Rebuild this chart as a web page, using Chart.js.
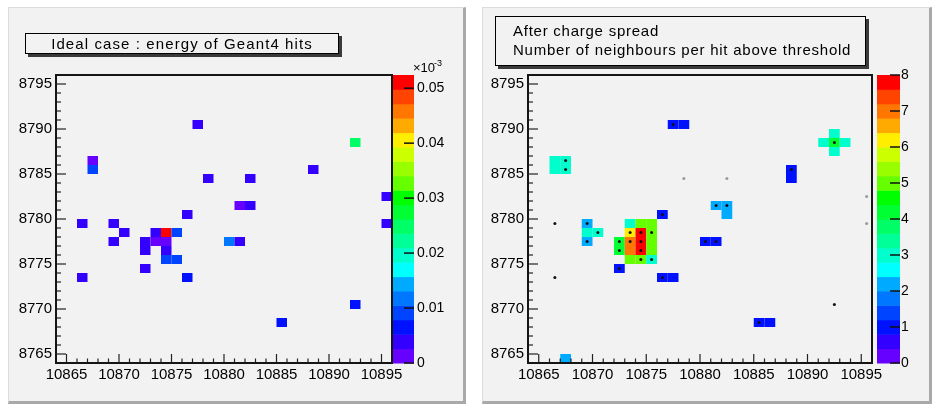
<!DOCTYPE html>
<html>
<head>
<meta charset="utf-8">
<script src="https://cdn.jsdelivr.net/npm/chart.js@4.4.0/dist/chart.umd.min.js"></script>
<style>
  body { margin: 0; background: #ffffff; font-family: "Liberation Sans", Arial, sans-serif; }
  #page { position: relative; width: 934px; height: 407px; overflow: hidden; }
  .pad {
    position: absolute; box-sizing: border-box; background: #f2f2f2;
    border-left: 1px solid #dcdcdc; border-top: 1px solid #dcdcdc;
    border-right: 3px solid #a9a9a9; border-bottom: 3px solid #a9a9a9;
  }
  .pad canvas { position: absolute; left: 0; top: 0; }
  .pave {
    position: absolute; box-sizing: border-box; background: #f2f2f2;
    border: 1px solid #000; box-shadow: 3px 3px 0 #3a3a3a;
    font-size: 15px; line-height: 19px; color: #000; z-index: 2; white-space: nowrap;
  }
</style>
</head>
<body>
<div id="page">
  <div class="pad" style="left:8px; top:7px; width:458px; height:397px;">
    <canvas id="truth" width="454" height="393"></canvas>
    <div class="pave" style="left:16px; top:25px; width:314px; height:21px; text-align:center; letter-spacing:1.1px;">Ideal case : energy of Geant4 hits</div>
  </div>
  <div class="pad" style="left:482px; top:7px; width:450px; height:397px;">
    <canvas id="spread" width="446" height="393"></canvas>
    <div class="pave" style="left:12px; top:8px; width:371px; height:50px; padding:4px 0 0 17px; letter-spacing:0.75px;">After charge spread<br>Number of neighbours per hit above threshold</div>
  </div>
</div>

<script>
// bin ranges (1 unit bins)
const xRange = [10864, 10896];
const yRange = [8764, 8796];

// Geant4 hits: bin centres and deposited energy (units of 1e-3)
const hitX = [10877.5, 10892.5, 10867.5, 10867.5, 10888.5, 10878.5, 10882.5, 10895.5, 10881.5, 10882.5,
              10876.5, 10866.5, 10869.5, 10895.5, 10870.5, 10873.5, 10874.5, 10875.5, 10869.5, 10872.5,
              10873.5, 10874.5, 10880.5, 10881.5, 10872.5, 10874.5, 10874.5, 10875.5, 10872.5, 10866.5,
              10876.5, 10892.5, 10885.5];
const hitY = [8790.5, 8788.5, 8786.5, 8785.5, 8785.5, 8784.5, 8784.5, 8782.5, 8781.5, 8781.5,
              8780.5, 8779.5, 8779.5, 8779.5, 8778.5, 8778.5, 8778.5, 8778.5, 8777.5, 8777.5,
              8777.5, 8777.5, 8777.5, 8777.5, 8776.5, 8776.5, 8775.5, 8775.5, 8774.5, 8773.5,
              8773.5, 8770.5, 8768.5];
const hitE = [0.004, 0.024, 0.0015, 0.009, 0.004, 0.004, 0.004, 0.004, 0.0015, 0.004,
              0.004, 0.004, 0.004, 0.004, 0.004, 0.004, 0.0524, 0.009, 0.004, 0.004,
              0.0015, 0.0015, 0.0115, 0.004, 0.004, 0.004, 0.010, 0.010, 0.004, 0.004,
              0.0065, 0.0065, 0.0065];
// hits drawn as faint dots on the right pad
const faintHits = [5, 6, 7, 13];

// after charge spread: number of neighbours per hit above threshold
const cellX = [10877.5, 10878.5, 10892.5, 10891.5, 10892.5, 10893.5, 10892.5, 10866.5, 10867.5, 10866.5,
               10867.5, 10888.5, 10888.5, 10881.5, 10882.5, 10882.5, 10876.5, 10869.5, 10869.5, 10870.5,
               10869.5, 10873.5, 10874.5, 10875.5, 10873.5, 10874.5, 10875.5, 10872.5, 10873.5, 10874.5,
               10875.5, 10872.5, 10873.5, 10874.5, 10875.5, 10873.5, 10874.5, 10875.5, 10872.5, 10876.5,
               10877.5, 10880.5, 10881.5, 10885.5, 10886.5, 10867.5];
const cellY = [8790.5, 8790.5, 8789.5, 8788.5, 8788.5, 8788.5, 8787.5, 8786.5, 8786.5, 8785.5,
               8785.5, 8785.5, 8784.5, 8781.5, 8781.5, 8780.5, 8780.5, 8779.5, 8778.5, 8778.5,
               8777.5, 8779.5, 8779.5, 8779.5, 8778.5, 8778.5, 8778.5, 8777.5, 8777.5, 8777.5,
               8777.5, 8776.5, 8776.5, 8776.5, 8776.5, 8775.5, 8775.5, 8775.5, 8774.5, 8773.5,
               8773.5, 8777.5, 8777.5, 8768.5, 8768.5, 8764.5];
const cellN = [1, 1, 3, 3, 4, 3, 3, 3, 3, 3,
               3, 1, 1, 2, 2, 2, 1, 2, 3, 3,
               2, 3, 5, 5, 6, 8, 5, 4, 7, 8,
               5, 4, 7, 8, 5, 5, 5, 3, 1, 1,
               1, 1, 1, 1, 1, 2];

const zTruth = [0, 0.0524];
const zSpread = [0, 8];

// ROOT-like 20 level palette, bottom to top
const palette = ['#6600ff', '#3300ff', '#0011ff', '#0044ff', '#0077ff', '#00aaff', '#00ffff', '#00ffcc',
                 '#00ff99', '#00ff66', '#00ff33', '#00ff00', '#66ff00', '#99ff00', '#ccff00', '#ffee00',
                 '#ffaa00', '#ff7700', '#ff4400', '#ff0000'];

Chart.defaults.font.family = '"Liberation Sans", Arial, sans-serif';
Chart.defaults.color = '#000';

function levelColor(v, zmin, zmax) {
    let i = Math.floor((v - zmin) / ((zmax - zmin) / palette.length) + 1e-9);
    return palette[Math.max(0, Math.min(palette.length - 1, i))];
}

const rootPlugin = {
    id: 'rootStyle',
    beforeDatasetsDraw(chart) {
        const { ctx, scales: { x, y, z } } = chart;
        const cells = chart.data.datasets[0].data;
        ctx.save();
        cells.forEach(c => {
            const x0 = x.getPixelForValue(c.x - 0.5), x1 = x.getPixelForValue(c.x + 0.5);
            const y0 = y.getPixelForValue(c.y + 0.5), y1 = y.getPixelForValue(c.y - 0.5);
            ctx.fillStyle = levelColor(c.v, z.min, z.max);
            ctx.fillRect(x0, y0, x1 - x0, y1 - y0);
        });
        ctx.restore();
    },
    afterDraw(chart, args, opts) {
        const { ctx, chartArea: a, scales: { x, y, z } } = chart;
        ctx.save();

        // colour bar
        const bx = a.right + opts.barGap;
        const step = (z.max - z.min) / palette.length;
        palette.forEach((col, i) => {
            const y0 = z.getPixelForValue(z.min + (i + 1) * step);
            const y1 = z.getPixelForValue(z.min + i * step);
            ctx.fillStyle = col;
            ctx.fillRect(bx, y0, opts.barWidth, y1 - y0 + 0.5);
        });
        ctx.strokeStyle = '#111';
        ctx.lineWidth = 1.5;
        z.ticks.forEach(t => {
            const py = z.getPixelForValue(t.value);
            ctx.beginPath();
            ctx.moveTo(bx + opts.barWidth - 10, py);
            ctx.lineTo(bx + opts.barWidth, py);
            ctx.stroke();
        });

        // inward axis ticks, major every 5, minor every 1
        ctx.lineWidth = 1.2;
        ctx.strokeStyle = '#222';
        for (let v = yRange[0]; v <= yRange[1]; v++) {
            const py = y.getPixelForValue(v);
            const len = v % 5 === 0 ? 10 : 5;
            ctx.beginPath();
            ctx.moveTo(a.left, py);
            ctx.lineTo(a.left + len, py);
            ctx.stroke();
        }
        for (let v = xRange[0]; v <= xRange[1]; v++) {
            const px = x.getPixelForValue(v);
            const len = v % 5 === 0 ? 9 : 4.5;
            ctx.beginPath();
            ctx.moveTo(px, a.bottom);
            ctx.lineTo(px, a.bottom - len);
            ctx.stroke();
        }

        // frame
        ctx.lineWidth = 2;
        ctx.strokeStyle = '#151515';
        ctx.strokeRect(a.left, a.top, a.right - a.left, a.bottom - a.top);

        // exponent label
        if (opts.exponent) {
            ctx.fillStyle = '#000';
            ctx.textBaseline = 'alphabetic';
            ctx.font = '13px "Liberation Sans", Arial, sans-serif';
            ctx.fillText('\u00d710', bx + 20, a.top - 3);
            ctx.font = '9px "Liberation Sans", Arial, sans-serif';
            ctx.fillText('-3', bx + 41, a.top - 9);
        }
        ctx.restore();
    }
};

function makeChart(id, cells, dots, dotColors, zr, cfg) {
    return new Chart(document.getElementById(id), {
        type: 'scatter',
        data: {
            datasets: [
                { data: cells, pointRadius: 0, pointHoverRadius: 0 },
                { data: dots, pointRadius: 1.5, pointHoverRadius: 1.5, borderWidth: 0,
                  pointBackgroundColor: dotColors }
            ]
        },
        plugins: [rootPlugin],
        options: {
            responsive: false,
            animation: false,
            events: [],
            layout: { padding: { top: 67, left: 0, right: cfg.padRight, bottom: 8 } },
            plugins: {
                legend: { display: false },
                tooltip: { enabled: false },
                rootStyle: { barGap: cfg.barGap, barWidth: cfg.barWidth, exponent: cfg.exponent }
            },
            scales: {
                x: {
                    type: 'linear', min: xRange[0], max: xRange[1],
                    grid: { display: false, drawTicks: false }, border: { display: false },
                    ticks: { stepSize: 5, includeBounds: false, autoSkip: false, maxRotation: 0,
                             padding: 3, font: { size: 15 }, callback: v => String(v) },
                    afterFit: s => { s.height = 30; }
                },
                y: {
                    type: 'linear', min: yRange[0], max: yRange[1],
                    grid: { display: false, drawTicks: false }, border: { display: false },
                    ticks: { stepSize: 5, includeBounds: false, autoSkip: false,
                             padding: 4, font: { size: 15 }, callback: v => String(v) },
                    afterFit: s => { s.width = cfg.yWidth; }
                },
                z: {
                    type: 'linear', axis: 'y', position: 'right', min: zr[0], max: zr[1],
                    grid: { display: false, drawTicks: false }, border: { display: false },
                    ticks: { stepSize: cfg.zStep, includeBounds: false, autoSkip: false,
                             padding: cfg.zPad, font: { size: 14 },
                             callback: cfg.zFormat },
                    afterFit: s => { s.width = cfg.zWidth; }
                }
            }
        }
    });
}

const truthCells = hitX.map((xv, i) => ({ x: xv, y: hitY[i], v: hitE[i] }));
const spreadCells = cellX.map((xv, i) => ({ x: xv, y: cellY[i], v: cellN[i] }));
const hitDots = hitX.map((xv, i) => ({ x: xv, y: hitY[i] }));
const dotColors = hitX.map((xv, i) => faintHits.includes(i) ? '#9a9a9a' : '#111');

makeChart('truth', truthCells, [], [], zTruth, {
    padRight: 9, yWidth: 47, zWidth: 62, barGap: 1, barWidth: 21, zPad: 25, zStep: 0.01,
    exponent: true, zFormat: v => v === 0 ? '0' : v.toFixed(2)
});
makeChart('spread', spreadCells, hitDots, dotColors, zSpread, {
    padRight: 7, yWidth: 45, zWidth: 50, barGap: 5, barWidth: 23, zPad: 29, zStep: 1,
    exponent: false, zFormat: v => String(v)
});
</script>
</body>
</html>
